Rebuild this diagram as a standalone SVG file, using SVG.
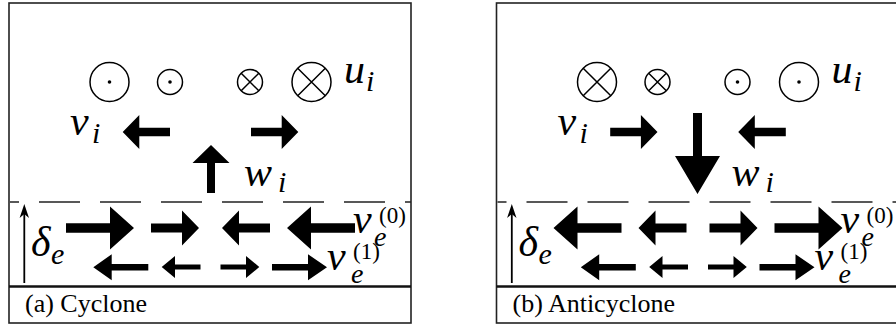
<svg xmlns="http://www.w3.org/2000/svg" width="896" height="331" viewBox="0 0 896 331">
<defs>
<g id="dotBig"><circle r="19.5" fill="none" stroke="#000" stroke-width="1.5"/><circle r="1.8" fill="#000"/></g>
<g id="dotSmall"><circle r="12.5" fill="none" stroke="#000" stroke-width="1.5"/><circle r="1.8" fill="#000"/></g>
<g id="crossBig" fill="none" stroke="#000" stroke-width="1.5"><circle r="19.5"/><path d="M-13.8,-13.8L13.8,13.8M-13.8,13.8L13.8,-13.8"/></g>
<g id="crossSmall" fill="none" stroke="#000" stroke-width="1.5"><circle r="12.5"/><path d="M-8.8,-8.8L8.8,8.8M-8.8,8.8L8.8,-8.8"/></g>
<g id="frameA">
<rect x="9" y="3" width="402" height="320" fill="none" stroke="#222" stroke-width="1.6"/>
<line x1="9" y1="286.5" x2="411" y2="286.5" stroke="#111" stroke-width="2.6"/>
<line x1="10" y1="202" x2="411" y2="202" stroke="#222" stroke-width="1.3" stroke-dasharray="41 20" stroke-dashoffset="32"/>
<line x1="24.3" y1="283" x2="24.3" y2="212" stroke="#000" stroke-width="1.8"/>
<path d="M24.3,204 L29,218 L24.3,214 L19.6,218 Z" fill="#000"/>
</g>
<g id="row2" fill="#000">
<polygon points="93.3,267.3 111.7,254.3 111.7,264 148.3,264 148.3,270.6 111.7,270.6 111.7,280.3"/>
<polygon points="161.7,267 175,256 175,264.5 200.5,264.5 200.5,269.5 175,269.5 175,278"/>
<polygon points="220.5,264.5 246,264.5 246,256 259.3,267 246,278 246,269.5 220.5,269.5"/>
<polygon points="272,264 308,264 308,254.3 327,267.3 308,280.3 308,270.6 272,270.6"/>
</g>
</defs>

<g id="panel-a">
<use href="#frameA"/>
<g id="a-symbols">
<use href="#dotBig" x="109.5" y="82"/>
<use href="#dotSmall" x="170" y="82"/>
<use href="#crossSmall" x="250" y="82"/>
<use href="#crossBig" x="311.5" y="82"/>
</g>
<g id="a-interior-arrows" fill="#000">
<polygon points="122.7,132 139.3,115 139.3,127.8 170,127.8 170,136.2 139.3,136.2 139.3,149"/>
<polygon points="251,127.8 281.7,127.8 281.7,115 298.3,132 281.7,149 281.7,136.2 251,136.2"/>
<polygon points="211,145 229.5,163 215,163 215,193 207,193 207,163 192.5,163"/>
</g>
<g id="a-ekman-arrows" fill="#000">
<polygon points="66,223.3 110,223.3 110,206.5 134,228 110,249.5 110,232.7 66,232.7"/>
<polygon points="151,223.5 182,223.5 182,210.5 199,228 182,245.5 182,232.5 151,232.5"/>
<polygon points="222,228 239,210.5 239,223.5 270,223.5 270,232.5 239,232.5 239,245.5"/>
<polygon points="287,228 311,206.5 311,223.3 355,223.3 355,232.7 311,232.7 311,249.5"/>
<use href="#row2"/>
</g>
</g>

<g id="panel-b" transform="translate(487.5,0)">
<use href="#frameA"/>
<g id="b-symbols">
<use href="#crossBig" x="109.5" y="82"/>
<use href="#crossSmall" x="170" y="82"/>
<use href="#dotSmall" x="250" y="82"/>
<use href="#dotBig" x="311.5" y="82"/>
</g>
<g id="b-interior-arrows" fill="#000">
<polygon points="122.7,127.8 153.4,127.8 153.4,115 170,132 153.4,149 153.4,136.2 122.7,136.2"/>
<polygon points="250.7,132 267.3,115 267.3,127.8 298.3,127.8 298.3,136.2 267.3,136.2 267.3,149"/>
<polygon points="205.5,113 214.5,113 214.5,156 232.5,156 210,194 187.5,156 205.5,156"/>
</g>
<g id="b-ekman-arrows" fill="#000">
<polygon points="66,228 90,206.5 90,223.3 134,223.3 134,232.7 90,232.7 90,249.5"/>
<polygon points="151,228 168,210.5 168,223.5 199,223.5 199,232.5 168,232.5 168,245.5"/>
<polygon points="222,223.5 253,223.5 253,210.5 270,228 253,245.5 253,232.5 222,232.5"/>
<polygon points="287,223.3 331,223.3 331,206.5 355,228 331,249.5 331,232.7 287,232.7"/>
<use href="#row2"/>
</g>
</g>

<g id="a-labels">
<text x="344" y="83" font-family="Liberation Serif" font-size="42" font-style="italic">u</text>
<text x="70" y="135" font-family="Liberation Serif" font-size="42" font-style="italic">v</text>
<text x="244" y="186" font-family="Liberation Serif" font-size="42" font-style="italic">w</text>
<text x="31" y="256" font-family="Liberation Serif" font-size="42" font-style="italic">δ</text>
<text x="353" y="233" font-family="Liberation Serif" font-size="42" font-style="italic">v</text>
<text x="327" y="270" font-family="Liberation Serif" font-size="42" font-style="italic">v</text>
<text x="366" y="91" font-family="Liberation Serif" font-size="30" font-style="italic">i</text>
<text x="92" y="143" font-family="Liberation Serif" font-size="30" font-style="italic">i</text>
<text x="278" y="192" font-family="Liberation Serif" font-size="30" font-style="italic">i</text>
<text x="51" y="264" font-family="Liberation Serif" font-size="30" font-style="italic">e</text>
<text x="374" y="246" font-family="Liberation Serif" font-size="28" font-style="italic">e</text>
<text x="351" y="283" font-family="Liberation Serif" font-size="28" font-style="italic">e</text>
<text x="379" y="223" font-family="Liberation Serif" font-size="23">(0)</text>
<text x="353" y="259" font-family="Liberation Serif" font-size="23">(1)</text>
<text x="25" y="312" font-family="Liberation Serif" font-size="26">(a) Cyclone</text>
</g>

<g id="b-labels">
<text x="831.5" y="83" font-family="Liberation Serif" font-size="42" font-style="italic">u</text>
<text x="557.5" y="135" font-family="Liberation Serif" font-size="42" font-style="italic">v</text>
<text x="731.5" y="186" font-family="Liberation Serif" font-size="42" font-style="italic">w</text>
<text x="518.5" y="256" font-family="Liberation Serif" font-size="42" font-style="italic">δ</text>
<text x="840.5" y="233" font-family="Liberation Serif" font-size="42" font-style="italic">v</text>
<text x="814.5" y="270" font-family="Liberation Serif" font-size="42" font-style="italic">v</text>
<text x="853.5" y="91" font-family="Liberation Serif" font-size="30" font-style="italic">i</text>
<text x="579.5" y="143" font-family="Liberation Serif" font-size="30" font-style="italic">i</text>
<text x="765.5" y="192" font-family="Liberation Serif" font-size="30" font-style="italic">i</text>
<text x="538.5" y="264" font-family="Liberation Serif" font-size="30" font-style="italic">e</text>
<text x="861.5" y="246" font-family="Liberation Serif" font-size="28" font-style="italic">e</text>
<text x="838.5" y="283" font-family="Liberation Serif" font-size="28" font-style="italic">e</text>
<text x="866.5" y="223" font-family="Liberation Serif" font-size="23">(0)</text>
<text x="840.5" y="259" font-family="Liberation Serif" font-size="23">(1)</text>
<text x="512.5" y="312" font-family="Liberation Serif" font-size="26">(b) Anticyclone</text>
</g>
</svg>
